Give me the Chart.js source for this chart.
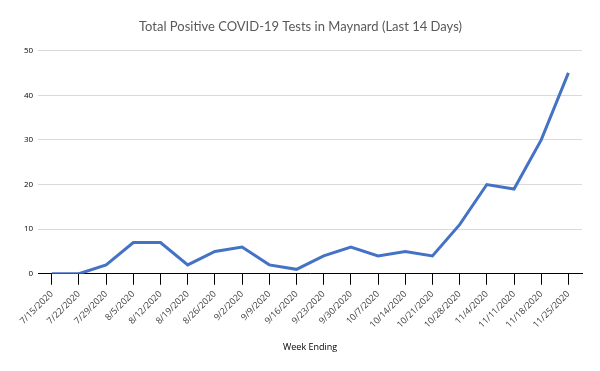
<!DOCTYPE html>
<html>
<head>
<meta charset="utf-8">
<script src="https://cdn.jsdelivr.net/npm/chart.js@4/dist/chart.umd.min.js"></script>
<style>
html,body{margin:0;padding:0;background:#fff;}
#wrap{width:600px;height:371px;position:relative;}
</style>
</head>
<body>
<div id="wrap"><canvas id="c" width="600" height="371"></canvas></div>
<script>
const categories = ["7/15/2020","7/22/2020","7/29/2020","8/5/2020","8/12/2020","8/19/2020","8/26/2020","9/2/2020","9/9/2020","9/16/2020","9/23/2020","9/30/2020","10/7/2020","10/14/2020","10/21/2020","10/28/2020","11/4/2020","11/11/2020","11/18/2020","11/25/2020"];
const positiveTests = [0,0,2,7,7,2,5,6,2,1,4,6,4,5,4,11,20,19,30,45];
const yTicks = [0,10,20,30,40,50];

new Chart(document.getElementById('c'), {
  type: 'line',
  data: {
    labels: categories,
    datasets: [{
      label: 'Total Positive COVID-19 Tests',
      data: positiveTests,
      borderColor: '#4472C4',
      borderWidth: 3,
      pointRadius: 0,
      tension: 0,
      fill: false
    }]
  },
  options: {
    responsive: false,
    animation: false,
    layout: { padding: { left: 19, right: 18, top: 4, bottom: 14 } },
    plugins: {
      legend: { display: false },
      tooltip: { enabled: false },
      title: {
        display: true,
        text: 'Total Positive COVID-19 Tests in Maynard (Last 14 Days)',
        color: '#595959',
        font: { family: 'Lato', size: 13, weight: 'normal' },
        padding: { top: 15, bottom: 16 }
      }
    },
    scales: {
      x: {
        offset: true,
        grid: { display: true, drawOnChartArea: false, drawTicks: true, tickLength: 11, color: '#000', offset: false },
        border: { display: true, color: '#000', width: 1 },
        ticks: {
          maxRotation: 45, minRotation: 45, autoSkip: false,
          color: '#404040', padding: 4,
          font: { family: 'Open Sans', size: 9 }
        },
        title: {
          display: true, text: 'Week Ending', color: '#000',
          font: { family: 'Open Sans', size: 9 }, padding: { top: 8 }
        }
      },
      y: {
        min: 0, max: 50,
        afterBuildTicks: (axis) => { axis.ticks = yTicks.map(v => ({ value: v })); },
        grid: { color: '#d9d9d9', drawTicks: false, lineWidth: 1 },
        border: { display: false },
        ticks: {
          color: '#000', padding: 5,
          font: { family: 'Open Sans', size: 8 }
        }
      }
    }
  }
});
</script>
</body>
</html>
